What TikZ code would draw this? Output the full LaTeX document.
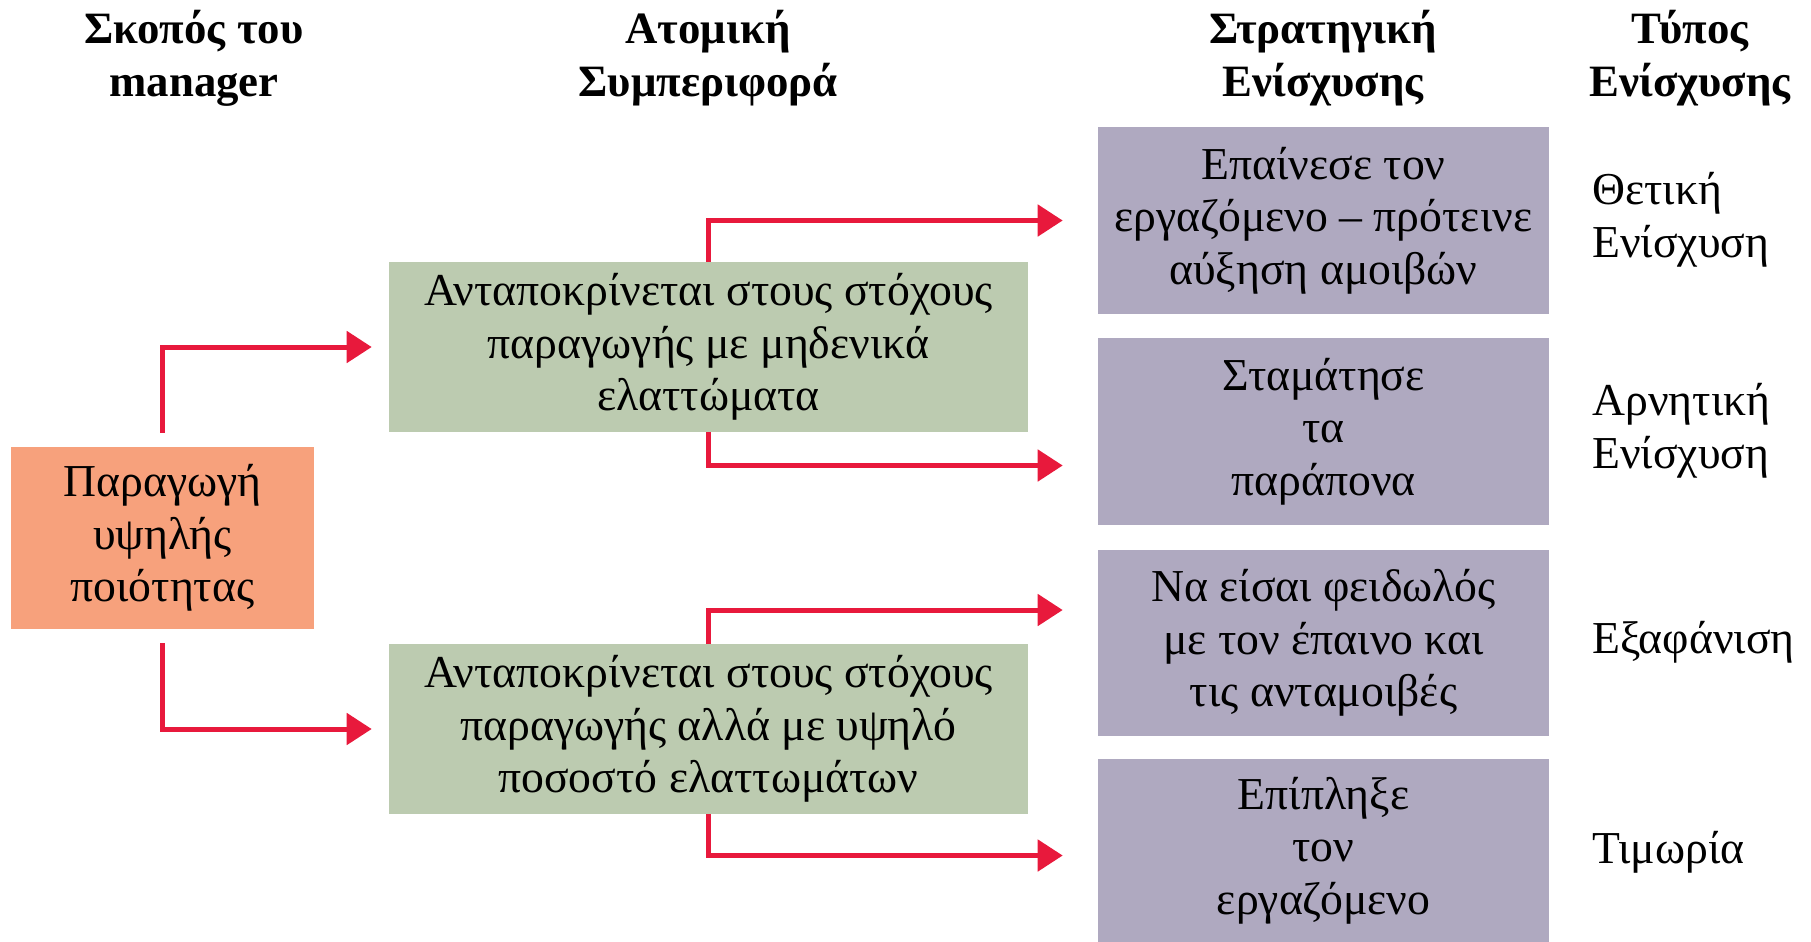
\documentclass[tikz,border=0pt]{standalone}
\usepackage{fontspec}
\setmainfont{Liberation Serif}
\usetikzlibrary{arrows.meta}

\definecolor{goalorange}{RGB}{247,161,124}
\definecolor{behgreen}{RGB}{188,203,176}
\definecolor{stratpurple}{RGB}{175,169,192}
\definecolor{arrowred}{RGB}{232,25,60}

\tikzset{
  txt/.style={inner sep=0pt, align=center, font=\fontsize{26}{30}\selectfont},
  head/.style={txt, font=\fontsize{25.5}{30}\selectfont\bfseries},
  goalbox/.style={txt, fill=goalorange, minimum width=6.06cm, minimum height=3.64cm},
  behbox/.style={txt, fill=behgreen, minimum width=12.78cm, minimum height=3.4cm},
  stratbox/.style={txt, fill=stratpurple, minimum width=9.02cm, minimum height=3.74cm},
  kind/.style={txt, anchor=west, align=left},
  link/.style={draw=arrowred, line width=0.1cm, -{Triangle[length=0.5cm,width=0.62cm]}}
}

\begin{document}
\begin{tikzpicture}[x=0.02cm, y=-0.02cm]
\useasboundingbox (0,0) rectangle (1811,941);

% column headings
\node[head] (hgoal) at (194,58) {Σκοπός του\\manager};
\node[head] (hbeh) at (708,58) {Ατομική\\Συμπεριφορά};
\node[head] (hstrat) at (1323,58) {Στρατηγική\\Ενίσχυσης};
\node[head] (hkind) at (1690,58) {Τύπος\\Ενίσχυσης};

% boxes
\node[goalbox] (goal) at (162.5,538) {Παραγωγή\\υψηλής\\ποιότητας};
\node[behbox] (zero) at (708.5,347) {Ανταποκρίνεται στους στόχους\\παραγωγής με μηδενικά\\ελαττώματα};
\node[behbox] (high) at (708.5,729) {Ανταποκρίνεται στους στόχους\\παραγωγής αλλά με υψηλό\\ποσοστό ελαττωμάτων};
\node[stratbox] (praise) at (1323.5,220.5) {Επαίνεσε τον\\εργαζόμενο – πρότεινε\\αύξηση αμοιβών};
\node[stratbox] (stop) at (1323.5,431.5) {Σταμάτησε\\τα\\παράπονα};
\node[stratbox] (stingy) at (1323.5,643) {Να είσαι φειδωλός\\με τον έπαινο και\\τις ανταμοιβές};
\node[stratbox, minimum height=3.66cm] (scold) at (1323.5,850.5) {Επίπληξε\\τον\\εργαζόμενο};

% reinforcement types
\node[kind] (pos) at (1592,220) {Θετική\\Ενίσχυση};
\node[kind] (neg) at (1592,431) {Αρνητική\\Ενίσχυση};
\node[kind] (ext) at (1592,642) {Εξαφάνιση};
\node[kind] (pun) at (1592,852) {Τιμωρία};

% connectors
\draw[link, shorten <=0.28cm, shorten >=0.34cm] (goal.north) |- (zero.west);
\draw[link, shorten <=0.28cm, shorten >=0.34cm] (goal.south) |- (high.west);
\draw[link, shorten >=0.7cm] (zero.north) |- (praise.west);
\draw[link, shorten >=0.7cm] (zero.south) |- ([yshift=-0.68cm]stop.west);
\draw[link, shorten >=0.7cm] (high.north) |- ([yshift=0.66cm]stingy.west);
\draw[link, shorten >=0.7cm] (high.south) |- ([yshift=-0.1cm]scold.west);
\end{tikzpicture}
\end{document}
